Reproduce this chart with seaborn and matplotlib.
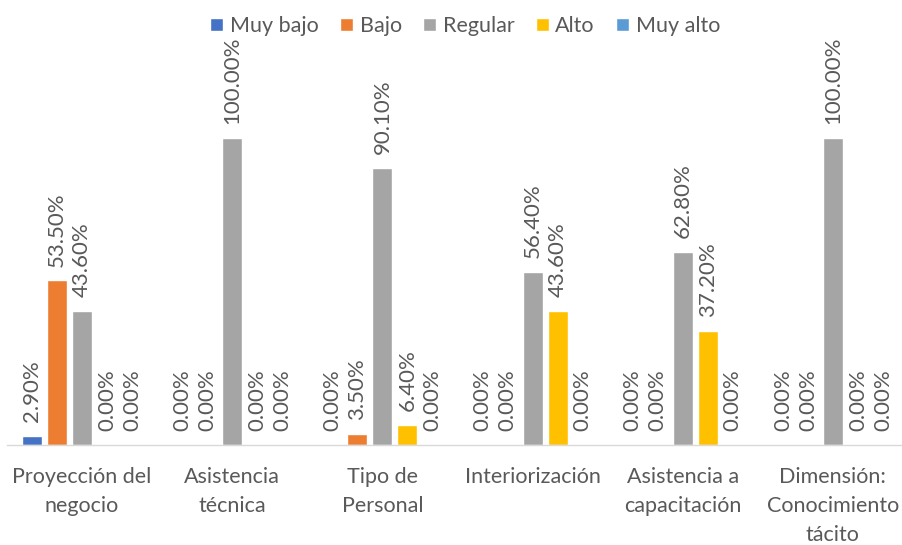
import matplotlib
matplotlib.use("Agg")
import matplotlib.pyplot as plt
import seaborn as sns
import pandas as pd

# datos
categorias = ["Proyección del\nnegocio", "Asistencia\ntécnica", "Tipo de\nPersonal",
              "Interiorización", "Asistencia a\ncapacitación", "Dimensión:\nConocimiento\ntácito"]
niveles = ["Muy bajo", "Bajo", "Regular", "Alto", "Muy alto"]
muy_bajo = [2.9, 0.0, 0.0, 0.0, 0.0, 0.0]
bajo = [53.5, 0.0, 3.5, 0.0, 0.0, 0.0]
regular = [43.6, 100.0, 90.1, 56.4, 62.8, 100.0]
alto = [0.0, 0.0, 6.4, 43.6, 37.2, 0.0]
muy_alto = [0.0, 0.0, 0.0, 0.0, 0.0, 0.0]
colores = ["#4472C4", "#ED7D31", "#A5A5A5", "#FFC000", "#5B9BD5"]

series = [muy_bajo, bajo, regular, alto, muy_alto]
filas = []
for nivel, valores in zip(niveles, series):
    for cat, v in zip(categorias, valores):
        filas.append({"categoria": cat, "nivel": nivel, "valor": v})
df = pd.DataFrame(filas)

sns.set_style("white")
plt.rcParams["font.family"] = ["Lato", "DejaVu Sans"]
gris = "#595959"

fig = plt.figure(figsize=(9.02, 5.45), dpi=100)
ax = fig.add_axes([7 / 902, 100 / 545, 895 / 902, 369 / 545])

sns.barplot(data=df, x="categoria", y="valor", hue="nivel", hue_order=niveles,
            palette=colores, width=0.832, gap=0.2, errorbar=None, ax=ax,
            saturation=1)

for cont, valores in zip(ax.containers, series):
    etiquetas = ["%.2f%%" % v for v in valores]
    ax.bar_label(cont, labels=etiquetas, rotation=90, padding=10,
                 fontsize=16, color=gris)

ax.set_xlim(-0.5, 5.46)
ax.set_ylim(0, 120)
ax.set_xlabel("")
ax.set_ylabel("")
ax.set_yticks([])
ax.tick_params(axis="x", length=0, pad=16, labelsize=15.5, labelcolor=gris)
for lab in ax.get_xticklabels():
    lab.set_linespacing(1.55)
for s in ["top", "left", "right"]:
    ax.spines[s].set_visible(False)
ax.spines["bottom"].set_color("#D9D9D9")
ax.spines["bottom"].set_linewidth(1)

ax.legend(loc="upper center", bbox_to_anchor=(0.512, 1.215), ncol=5, frameon=False,
          fontsize=15.5, labelcolor=gris, handlelength=0.6, handleheight=0.6,
          handletextpad=0.3, columnspacing=1.0)

fig.savefig("out.png", dpi=100)
